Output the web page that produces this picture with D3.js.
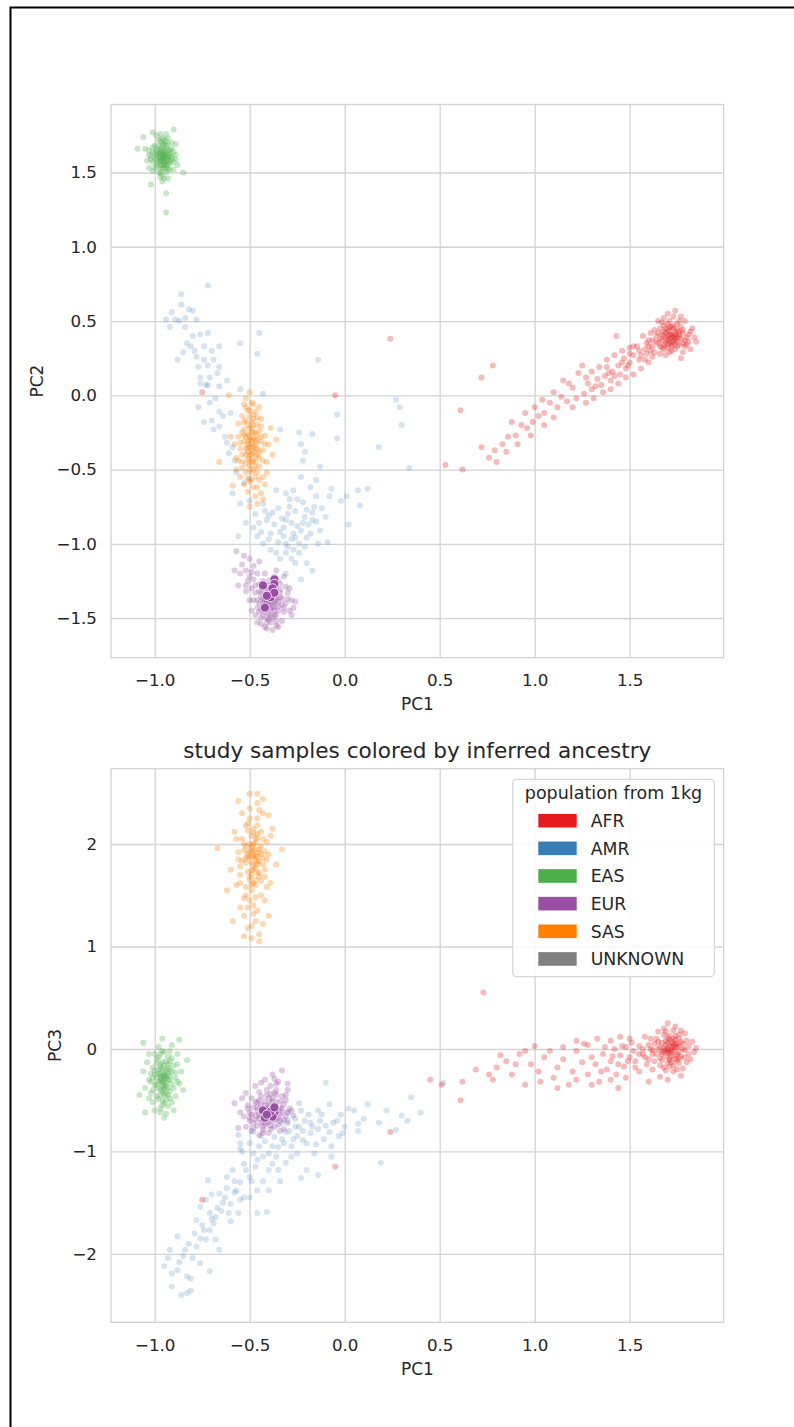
<!DOCTYPE html>
<html>
<head>
<meta charset="utf-8">
<script src="https://cdn.jsdelivr.net/npm/d3@7"></script>
<style>
  html, body { margin: 0; padding: 0; background: #fff; }
  svg { display: block; font-family: "DejaVu Sans", sans-serif; }
</style>
</head>
<body>
<svg id="fig" width="794" height="1427"></svg>
<script>
// ---- populations and legend ----
const populations = ["AFR", "AMR", "EAS", "EUR", "SAS", "UNKNOWN"];
const popColors = ["#e41a1c", "#377eb8", "#4daf4a", "#984ea3", "#ff7f00", "#808080"];

// ---- tick values ----
const pc1Ticks = [-1.0, -0.5, 0.0, 0.5, 1.0, 1.5];
const pc2Ticks = [-1.5, -1.0, -0.5, 0.0, 0.5, 1.0, 1.5];
const pc3Ticks = [-2, -1, 0, 1, 2];

// ---- reference panel, PC1 vs PC2 ----
const afrPC12 = [
[1.72,0.39],[1.70,0.37],[1.74,0.41],[1.68,0.40],[1.75,0.36],[1.71,0.43],[1.73,0.34],[1.69,0.35],[1.76,0.39],[1.66,0.38],
[1.72,0.46],[1.78,0.42],[1.67,0.32],[1.74,0.31],[1.70,0.48],[1.64,0.36],[1.79,0.37],[1.77,0.46],[1.65,0.42],[1.71,0.29],
[1.62,0.33],[1.76,0.50],[1.68,0.47],[1.81,0.41],[1.63,0.29],[1.73,0.53],[1.80,0.34],[1.60,0.37],[1.69,0.27],[1.78,0.29],
[1.66,0.45],[1.75,0.44],[1.71,0.36],[1.73,0.39],[1.69,0.42],[1.70,0.40],[1.74,0.37],[1.72,0.33],[1.67,0.37],[1.76,0.34],
[1.83,0.45],[1.84,0.39],[1.82,0.31],[1.58,0.31],[1.61,0.42],[1.74,0.57],[1.70,0.55],[1.65,0.50],[1.57,0.40],[1.79,0.50],
[1.85,0.36],[1.62,0.26],[1.68,0.52],[1.59,0.28],[1.77,0.25],[1.73,0.45],[1.71,0.41],[1.68,0.34],[1.75,0.40],[1.70,0.32],
[1.73,0.40],[1.71,0.38],[1.74,0.43],[1.69,0.38],[1.76,0.41],[1.72,0.35],[1.70,0.44],[1.67,0.41],[1.77,0.38],[1.73,0.47],
[1.68,0.31],[1.75,0.33],[1.65,0.35],[1.78,0.44],[1.71,0.50],[1.80,0.39],[1.64,0.40],[1.72,0.30],[1.66,0.28],[1.79,0.33],
[1.62,0.37],[1.75,0.48],[1.69,0.45],[1.82,0.43],[1.60,0.33],[1.77,0.53],[1.81,0.36],[1.63,0.44],[1.67,0.49],[1.73,0.36],
[1.70,0.34],[1.74,0.38],[1.71,0.46],[1.76,0.43],[1.68,0.43],[1.72,0.41],[1.66,0.33],[1.78,0.35],[1.59,0.35],[1.61,0.30],
[1.56,0.27],[1.58,0.24],[1.54,0.33],[1.50,0.28],[1.49,0.20],[1.46,0.22],[1.42,0.13],[1.39,0.15],[1.32,0.06],[1.27,0.12],
[1.55,0.30],[1.52,0.27],[1.55,0.24],[1.50,0.22],[1.47,0.25],[1.48,0.18],[1.44,0.20],[1.45,0.14],[1.41,0.16],[1.40,0.10],
[1.37,0.13],[1.35,0.07],[1.33,0.11],[1.30,0.04],[1.28,0.08],[1.26,0.01],[1.23,0.15],[1.22,-0.02],[1.20,0.05],[1.17,-0.04],
[1.14,-0.01],[1.12,-0.08],[1.08,-0.05],[1.05,-0.12],[1.02,-0.14],[0.99,-0.18],[0.96,-0.22],[0.93,-0.20],[0.90,-0.27],[0.86,-0.28],
[0.83,-0.33],[0.79,-0.37],[0.76,-0.42],[0.72,-0.35],[0.62,-0.50],[0.53,-0.47],[0.61,-0.10],[0.78,0.20],[0.72,0.12],[0.24,0.38],
[-0.75,0.02],[-0.05,0.00],[1.43,0.40],[1.52,0.33],[1.38,0.19],
[1.50,0.32],[1.46,0.30],[1.42,0.27],[1.38,0.24],[1.34,0.19],[1.30,0.16],[1.48,0.12],[1.44,0.08],[1.36,0.02],[1.31,-0.02],
[1.25,0.20],[1.18,0.08],[1.15,0.10],[1.10,0.02],[1.04,-0.03],[1.00,-0.08],[0.95,-0.12],[0.88,-0.18],[1.10,-0.15],[1.05,-0.20],
[0.98,-0.27],[0.91,-0.33],[0.85,-0.38],[0.80,-0.45],[1.20,-0.08],[1.27,-0.05],[1.40,0.04],[1.52,0.14],[1.56,0.18],[1.60,0.22]
];
const amrPC12 = [
[-0.72,0.74],[-0.86,0.68],[-0.86,0.61],[-0.82,0.58],[-0.80,0.57],[-0.91,0.56],[-0.94,0.51],[-0.89,0.51],[-0.84,0.52],[-0.92,0.46],
[-0.84,0.46],[-0.78,0.51],[-0.72,0.42],[-0.76,0.41],[-0.45,0.42],[-0.55,0.35],[-0.83,0.35],[-0.81,0.33],[-0.85,0.29],[-0.74,0.33],
[-0.66,0.33],[-0.46,0.28],[-0.88,0.24],[-0.78,0.26],[-0.74,0.24],[-0.69,0.24],[-0.77,0.19],[-0.72,0.20],[-0.66,0.19],[-0.67,0.15],
[-0.76,0.12],[-0.71,0.12],[-0.73,0.07],[-0.66,0.06],[-0.76,0.08],[-0.72,0.07],[-0.55,0.04],[-0.43,0.01],[-0.77,-0.08],[-0.71,-0.05],
[-0.66,-0.11],[-0.60,-0.12],[-0.74,-0.18],[-0.70,-0.17],[-0.66,-0.21],[-0.69,-0.23],[-0.62,-0.32],[-0.59,-0.35],[-0.61,-0.39],[-0.34,-0.23],
[-0.24,-0.25],[-0.17,-0.26],[-0.23,-0.33],[-0.21,-0.38],[-0.22,-0.44],[-0.13,-0.48],[-0.04,-0.13],[-0.04,-0.29],[-0.23,-0.55],[-0.15,-0.57],
[-0.18,-0.62],[-0.27,-0.64],[-0.31,-0.66],[-0.07,-0.63],[0.01,-0.68],[0.07,-0.64],[0.12,-0.63],[0.08,-0.74],[0.02,-0.87],[-0.02,-0.71],
[-0.08,-0.68],[-0.36,-0.64],[-0.15,-0.68],[-0.16,-0.75],[-0.17,-0.79],[-0.17,-0.84],[-0.20,-0.77],[-0.25,-0.70],[-0.29,-0.75],[-0.31,-0.84],
[-0.32,-0.89],[-0.32,-0.95],[-0.31,-1.00],[-0.27,-0.93],[-0.24,-1.00],[-0.22,-0.86],[-0.18,-0.93],[-0.14,-1.00],[-0.09,-0.99],[-0.13,-0.91],
[-0.10,-0.82],[-0.38,-0.79],[-0.41,-0.84],[-0.48,-0.89],[-0.52,-0.86],[-0.56,-0.95],[-0.46,-0.95],[-0.43,-1.00],[-0.39,-1.04],[-0.36,-1.06],
[-0.31,-1.06],[-0.27,-1.04],[-0.24,-1.06],[-0.26,-1.13],[-0.20,-1.13],[-0.17,-1.18],[-0.23,-1.24],[-0.31,-1.20],[-0.39,-0.93],[-0.35,-0.76],
[-0.40,-0.81],[-0.43,-0.73],[-0.50,-0.71],[-0.55,-0.73],[-0.59,-0.66],[-0.53,-0.59],[-0.50,-0.56],[0.18,-0.35],[0.27,-0.03],[-0.14,0.24],
[0.29,-0.08],[0.34,-0.49],[0.30,-0.20],[-0.30,-0.80],[-0.28,-0.86],[-0.34,-0.92],[-0.26,-0.78],[-0.22,-0.72],[-0.29,-0.70],[-0.20,-0.96],
[-0.33,-0.83],[-0.28,-0.97],[-0.25,-0.88],[-0.21,-0.82],[-0.35,-0.99],[-0.30,-1.02],[-0.26,-0.96],[-0.19,-0.87],[-0.23,-0.91],[-0.37,-0.87],
[-0.42,-0.78],[-0.45,-0.86],[-0.47,-0.80],[-0.44,-0.92],[-0.40,-0.97],[-0.34,-1.10],[-0.28,-1.10],[-0.21,-1.02],[-0.15,-0.85],[-0.12,-0.76],
[-0.63,-0.28],[-0.64,-0.14],[-0.68,-0.02],[-0.58,-0.44],[-0.57,-0.52],[-0.80,0.40],[-0.87,0.50],[-0.79,0.30],[-0.70,0.30],[-0.62,0.10]
];
const easPC12 = [
[-0.96,1.60],[-0.95,1.62],[-0.97,1.58],[-0.94,1.59],[-0.96,1.64],[-0.98,1.61],[-0.95,1.56],[-0.93,1.62],[-0.97,1.55],[-0.99,1.59],
[-0.94,1.66],[-0.96,1.68],[-0.92,1.58],[-1.00,1.63],[-0.95,1.53],[-0.98,1.66],[-0.93,1.55],[-0.97,1.71],[-0.91,1.61],[-1.01,1.57],
[-0.95,1.60],[-0.96,1.57],[-0.94,1.63],[-0.97,1.62],[-0.95,1.65],[-0.96,1.52],[-0.99,1.54],[-0.92,1.65],[-0.93,1.69],[-1.02,1.61],
[-0.90,1.57],[-0.98,1.50],[-0.94,1.50],[-0.91,1.66],[-1.00,1.68],[-0.96,1.73],[-0.93,1.73],[-1.03,1.65],[-0.89,1.62],[-0.90,1.52],
[-1.01,1.51],[-0.97,1.47],[-0.93,1.46],[-0.88,1.55],[-1.04,1.58],[-0.99,1.75],[-0.94,1.76],[-0.89,1.69],[-1.05,1.66],[-0.85,1.50],
[-0.96,1.44],[-1.02,1.42],[-0.90,1.79],[-1.01,1.77],[-0.95,1.61],[-0.96,1.59],[-0.94,1.57],[-0.97,1.60],[-0.95,1.58],[-0.93,1.60],
[-0.96,1.62],[-0.98,1.57],[-0.94,1.61],[-0.97,1.65],[-0.92,1.61],[-0.94,1.36],[-0.94,1.23],[-1.06,1.74],[-1.09,1.66],[-1.03,1.53],
[-0.95,1.63],[-0.97,1.59],[-0.96,1.66],[-0.94,1.55],[-0.98,1.63],[-0.93,1.58],[-0.97,1.53],[-0.95,1.69],[-0.99,1.62],[-0.92,1.63],
[-0.96,1.55],[-1.00,1.60],[-0.94,1.68],[-0.98,1.68],[-0.91,1.59],[-0.97,1.50],[-0.93,1.52],[-1.01,1.64],[-0.95,1.72],[-0.99,1.56],
[-0.92,1.56],[-0.96,1.48],[-1.02,1.59],[-0.90,1.64],[-0.94,1.71],[-0.98,1.72],[-1.00,1.53],[-0.91,1.70],[-0.97,1.76],[-1.03,1.62],
[-0.89,1.59],[-0.95,1.46],[-0.93,1.65],[-0.97,1.63],[-0.95,1.55],[-0.99,1.65],[-0.94,1.53],[-0.96,1.70],[-1.01,1.67],[-0.92,1.52]
];
const eurPC12 = [
[-0.40,-1.37],[-0.42,-1.34],[-0.38,-1.40],[-0.41,-1.31],[-0.37,-1.35],[-0.43,-1.40],[-0.39,-1.44],[-0.36,-1.30],[-0.44,-1.36],[-0.40,-1.28],
[-0.35,-1.42],[-0.42,-1.46],[-0.38,-1.33],[-0.45,-1.32],[-0.33,-1.37],[-0.41,-1.50],[-0.37,-1.48],[-0.46,-1.43],[-0.34,-1.27],[-0.43,-1.25],
[-0.39,-1.53],[-0.31,-1.40],[-0.47,-1.28],[-0.36,-1.52],[-0.44,-1.50],[-0.30,-1.33],[-0.48,-1.38],[-0.42,-1.56],[-0.32,-1.46],[-0.50,-1.22],
[-0.52,-1.18],[-0.48,-1.15],[-0.54,-1.14],[-0.51,-1.25],[-0.46,-1.20],[-0.55,-1.20],[-0.50,-1.10],[-0.57,-1.05],[-0.53,-1.08],[-0.58,-1.18],
[-0.45,-1.12],[-0.49,-1.30],[-0.52,-1.32],[-0.28,-1.38],[-0.27,-1.43],[-0.29,-1.30],[-0.26,-1.39],[-0.33,-1.52],[-0.38,-1.58],[-0.41,-1.57],
[-0.35,-1.56],[-0.44,-1.54],[-0.47,-1.48],[-0.40,-1.40],[-0.39,-1.36],[-0.41,-1.38],[-0.38,-1.37],[-0.40,-1.33],[-0.42,-1.38],[-0.37,-1.42],
[-0.43,-1.43],[-0.39,-1.30],[-0.36,-1.38],[-0.41,-1.44],[-0.45,-1.40],[-0.34,-1.33],[-0.40,-1.47],[-0.38,-1.27],[-0.43,-1.30],[-0.35,-1.45],
[-0.49,-1.45],[-0.31,-1.29],[-0.46,-1.53],[-0.32,-1.22],[-0.37,-1.22],[-0.56,-1.28],[-0.50,-1.38],[-0.28,-1.48],[-0.36,-1.18],[-0.42,-1.20],
[-0.39,-1.39],[-0.41,-1.35],[-0.38,-1.43],[-0.42,-1.41],[-0.36,-1.36],[-0.40,-1.31],[-0.43,-1.37],[-0.37,-1.45],[-0.40,-1.42],[-0.35,-1.39],
[-0.44,-1.33],[-0.39,-1.48],[-0.33,-1.41],[-0.42,-1.29],[-0.38,-1.50],[-0.46,-1.38],[-0.34,-1.31],[-0.41,-1.53],[-0.45,-1.46],[-0.32,-1.43],
[-0.47,-1.33],[-0.36,-1.55],[-0.43,-1.48],[-0.30,-1.37],[-0.48,-1.24],[-0.40,-1.25],[-0.52,-1.28],[-0.49,-1.19],[-0.35,-1.25],[-0.29,-1.45],
[-0.38,-1.34],[-0.41,-1.40],[-0.37,-1.39],[-0.39,-1.33],[-0.42,-1.36],[-0.44,-1.44],[-0.36,-1.48],[-0.40,-1.51],[-0.34,-1.36],[-0.45,-1.27]
];
const sasPC12 = [
[-0.49,-0.33],[-0.50,-0.28],[-0.48,-0.38],[-0.51,-0.35],[-0.47,-0.30],[-0.50,-0.22],[-0.48,-0.44],[-0.52,-0.40],[-0.46,-0.36],[-0.49,-0.18],
[-0.51,-0.26],[-0.47,-0.25],[-0.50,-0.47],[-0.53,-0.31],[-0.45,-0.42],[-0.48,-0.13],[-0.52,-0.17],[-0.46,-0.20],[-0.49,-0.52],[-0.54,-0.45],
[-0.44,-0.31],[-0.51,-0.10],[-0.47,-0.55],[-0.53,-0.23],[-0.45,-0.48],[-0.50,-0.58],[-0.55,-0.36],[-0.43,-0.37],[-0.48,-0.06],[-0.52,-0.52],
[-0.46,-0.62],[-0.54,-0.14],[-0.42,-0.27],[-0.49,-0.40],[-0.50,-0.35],[-0.48,-0.29],[-0.51,-0.31],[-0.47,-0.41],[-0.49,-0.25],[-0.50,-0.43],
[-0.56,-0.28],[-0.41,-0.45],[-0.53,-0.06],[-0.44,-0.16],[-0.57,-0.42],[-0.47,-0.68],[-0.51,-0.65],[-0.40,-0.33],[-0.56,-0.19],[-0.43,-0.55],
[-0.55,-0.55],[-0.45,-0.08],[-0.50,0.02],[-0.52,-0.02],[-0.39,-0.22],[-0.58,-0.33],[-0.42,-0.60],[-0.46,-0.73],[-0.50,-0.75],[-0.60,-0.28],
[-0.38,-0.40],[-0.66,-0.45],[-0.57,-0.50],[-0.44,-0.66],[-0.41,-0.52],[-0.53,-0.60],[-0.48,-0.20],[-0.49,-0.45],[-0.47,-0.33],[-0.52,-0.28],
[-0.46,-0.27],[-0.51,-0.38],[-0.48,-0.50],[-0.50,-0.14],[-0.45,-0.24],[-0.54,-0.49],[-0.61,0.00],[-0.36,-0.30],[-0.43,-0.70],[-0.59,-0.61],
[-0.49,-0.30],[-0.51,-0.33],[-0.47,-0.36],[-0.50,-0.40],[-0.48,-0.25],[-0.52,-0.36],[-0.46,-0.31],[-0.49,-0.22],[-0.53,-0.27],[-0.47,-0.45],
[-0.50,-0.50],[-0.45,-0.38],[-0.51,-0.20],[-0.48,-0.16],[-0.54,-0.40],[-0.46,-0.52],[-0.52,-0.46],[-0.44,-0.28],[-0.49,-0.57],[-0.50,-0.10],
[-0.53,-0.18],[-0.47,-0.11],[-0.55,-0.32],[-0.43,-0.44],[-0.48,-0.62],[-0.51,-0.56],[-0.45,-0.57],[-0.52,-0.08],[-0.46,-0.15],[-0.56,-0.44],
[-0.42,-0.33],[-0.49,-0.05],[-0.54,-0.25],[-0.44,-0.21],[-0.47,-0.48],[-0.50,-0.30],[-0.48,-0.34],[-0.51,-0.43],[-0.46,-0.40],[-0.49,-0.37]
];

// ---- reference panel, PC1 vs PC3 ----
const afrPC13 = [
[1.72,-0.03],[1.70,0.00],[1.74,-0.06],[1.68,-0.02],[1.75,0.02],[1.71,-0.09],[1.73,0.05],[1.69,-0.07],[1.76,-0.03],[1.66,0.02],
[1.72,-0.13],[1.78,0.00],[1.67,-0.11],[1.74,0.09],[1.70,0.11],[1.64,-0.05],[1.79,-0.08],[1.77,0.07],[1.65,0.07],[1.71,-0.17],
[1.62,-0.01],[1.76,0.14],[1.68,0.14],[1.81,0.03],[1.63,-0.12],[1.73,0.18],[1.80,-0.13],[1.60,0.04],[1.69,-0.21],[1.78,-0.19],
[1.66,-0.16],[1.75,-0.11],[1.71,0.03],[1.73,-0.01],[1.69,0.04],[1.70,-0.04],[1.74,0.01],[1.72,0.07],[1.67,-0.05],[1.76,-0.14],
[1.83,0.07],[1.84,-0.03],[1.82,-0.10],[1.58,-0.08],[1.61,0.10],[1.74,0.22],[1.70,0.25],[1.65,0.17],[1.57,0.00],[1.79,0.15],
[1.85,0.01],[1.62,-0.20],[1.68,0.20],[1.59,-0.15],[1.77,-0.26],[1.73,-0.22],[1.71,0.13],[1.66,-0.27],[1.75,0.05],[1.70,-0.30],
[1.72,-0.01],[1.71,-0.04],[1.73,0.03],[1.69,-0.01],[1.75,-0.05],[1.70,0.06],[1.74,-0.10],[1.68,0.01],[1.76,0.03],[1.72,-0.07],
[1.67,0.06],[1.77,-0.07],[1.66,-0.09],[1.78,0.05],[1.71,0.09],[1.65,0.00],[1.79,-0.01],[1.73,-0.16],[1.64,0.10],[1.74,0.13],
[1.70,-0.14],[1.62,-0.05],[1.80,0.08],[1.68,-0.18],[1.76,0.10],[1.81,-0.05],[1.63,0.05],[1.69,0.17],[1.75,-0.20],[1.77,0.18],
[1.72,0.02],[1.70,-0.02],[1.74,0.05],[1.71,-0.11],[1.73,0.10],[1.67,-0.03],[1.76,-0.09],[1.69,0.08],[1.60,-0.10],[1.61,0.00],
[1.57,-0.05],[1.55,0.03],[1.53,-0.18],[1.51,0.06],[1.49,-0.12],[1.46,0.03],[1.44,-0.15],[1.41,-0.07],[1.37,0.02],[1.35,-0.22],
[1.55,-0.05],[1.52,-0.02],[1.53,-0.12],[1.50,-0.08],[1.48,0.02],[1.47,-0.17],[1.45,-0.06],[1.43,-0.25],[1.42,0.00],[1.40,-0.12],
[1.38,-0.20],[1.36,-0.05],[1.34,-0.32],[1.32,-0.15],[1.30,-0.08],[1.28,-0.25],[1.25,-0.13],[1.22,-0.02],[1.20,-0.22],[1.18,-0.35],
[1.15,-0.10],[1.12,-0.18],[1.10,-0.28],[1.05,-0.08],[1.02,-0.22],[0.98,-0.15],[0.95,-0.35],[0.92,-0.05],[0.88,-0.25],[0.85,-0.12],
[0.82,-0.06],[0.78,-0.30],[0.76,-0.25],[0.69,-0.20],[0.61,-0.50],[0.51,-0.35],[0.62,-0.32],[0.73,0.55],[0.24,-0.81],[-0.05,-1.15],
[-0.75,-1.47],[0.45,-0.30],[1.26,0.05],[1.44,-0.38],[1.60,-0.32],
[1.50,0.10],[1.45,0.12],[1.40,0.08],[1.33,0.10],[1.28,0.04],[1.22,0.08],[1.15,0.02],[1.08,-0.02],[1.00,0.03],[0.95,-0.02],
[1.48,-0.28],[1.40,-0.30],[1.30,-0.35],[1.22,-0.30],[1.12,-0.38],[1.03,-0.32],[0.90,-0.15],[0.80,-0.18],[1.55,-0.22],[1.58,0.12]
];
const amrPC13 = [
[-0.10,-0.33],[0.52,-0.33],[0.35,-0.47],[0.30,-0.65],[0.27,-0.79],[0.18,-0.72],[0.12,-0.54],[0.19,-1.11],[0.07,-0.73],[0.07,-0.80],
[0.02,-0.58],[-0.08,-0.54],[-0.01,-0.82],[-0.03,-0.85],[-0.07,-0.95],[-0.07,-1.05],[-0.14,-0.60],[-0.17,-0.76],[-0.15,-0.93],[-0.14,-1.23],
[-0.20,-1.18],[-0.23,-1.26],[-0.24,-0.76],[-0.22,-0.89],[-0.23,-0.60],[-0.26,-0.68],[-0.25,-1.02],[-0.31,-1.11],[-0.34,-1.29],[-0.28,-0.95],
[-0.32,-0.92],[-0.36,-1.05],[-0.40,-1.02],[-0.40,-1.18],[-0.43,-1.29],[-0.45,-0.95],[-0.46,-1.08],[-0.46,-1.38],[-0.40,-1.38],[-0.41,-1.59],
[-0.46,-1.60],[-0.49,-1.29],[-0.52,-1.18],[-0.53,-1.12],[-0.55,-0.92],[-0.54,-1.00],[-0.59,-1.18],[-0.58,-1.29],[-0.62,-1.36],[-0.57,-1.38],
[-0.55,-1.47],[-0.53,-1.45],[-0.60,-1.51],[-0.61,-1.60],[-0.56,-1.60],[-0.66,-1.41],[-0.70,-1.42],[-0.67,-1.55],[-0.71,-1.60],[-0.68,-1.64],
[-0.72,-1.28],[-0.73,-1.47],[-0.76,-1.54],[-0.78,-1.67],[-0.74,-1.77],[-0.71,-1.77],[-0.76,-1.85],[-0.73,-1.86],[-0.68,-1.86],[-0.66,-1.96],
[-0.78,-1.93],[-0.82,-1.90],[-0.84,-1.96],[-0.88,-1.83],[-0.92,-1.96],[-0.93,-2.04],[-0.85,-2.02],[-0.80,-2.04],[-0.76,-2.09],[-0.95,-2.12],
[-0.91,-2.19],[-0.88,-2.16],[-0.83,-2.22],[-0.81,-2.24],[-0.91,-2.32],[-0.86,-2.40],[-0.83,-2.38],[-0.81,-2.36],[-0.71,-2.17],[-0.56,-0.84],
[-0.55,-0.97],[-0.48,-0.81],[-0.24,-0.53],[-0.19,-0.64],[-0.31,-0.81],[-0.37,-0.86],[-0.18,-0.82],[-0.13,-0.70],[-0.08,-0.81],[-0.04,-0.70],
[-0.33,-0.72],[-0.29,-0.80],[-0.21,-0.70],[-0.27,-0.88],[-0.35,-0.96],[-0.42,-0.90],[-0.38,-1.12],[-0.48,-1.02],[-0.50,-1.45],[-0.64,-1.50],
[-0.62,-1.25],[-0.69,-1.70],[-0.60,-1.68],[-0.11,-0.88],[-0.16,-1.02],[0.40,-0.62],[0.33,-0.70],[0.05,-0.60],[-0.02,-0.64],[-0.30,-0.62],
[-0.30,-0.70],[-0.26,-0.76],[-0.22,-0.80],[-0.18,-0.72],[-0.14,-0.78],[-0.10,-0.75],[-0.06,-0.72],[-0.25,-0.85],[-0.33,-0.88],[-0.38,-0.95],
[-0.43,-1.05],[-0.47,-1.15],[-0.50,-1.25],[-0.55,-1.30],[-0.58,-1.40],[-0.63,-1.45],[-0.65,-1.58],[-0.70,-1.66],[-0.75,-1.72],[-0.79,-1.80],
[-0.50,-0.92],[-0.44,-0.85],[-0.20,-0.92],[-0.12,-0.64],[0.00,-0.76],[0.10,-0.68],[0.22,-0.60],[-0.35,-1.18],[-0.28,-1.05],[-0.87,-2.08]
];
const easPC13 = [
[-0.96,-0.27],[-0.95,-0.22],[-0.97,-0.31],[-0.94,-0.26],[-0.98,-0.20],[-0.95,-0.35],[-0.93,-0.18],[-0.97,-0.40],[-0.99,-0.28],[-0.92,-0.30],
[-0.96,-0.13],[-1.00,-0.35],[-0.94,-0.44],[-0.91,-0.22],[-0.98,-0.08],[-1.01,-0.18],[-0.93,-0.07],[-0.96,-0.50],[-0.90,-0.38],[-1.02,-0.43],
[-0.95,-0.30],[-0.97,-0.24],[-0.94,-0.33],[-0.96,-0.19],[-0.95,-0.40],[-0.98,-0.32],[-0.93,-0.24],[-0.97,-0.15],[-0.92,-0.12],[-1.00,-0.25],
[-0.89,-0.28],[-0.99,-0.46],[-0.92,-0.48],[-1.03,-0.30],[-0.95,-0.03],[-0.98,0.02],[-0.91,0.04],[-0.88,-0.15],[-1.04,-0.13],[-0.93,-0.56],
[-0.97,-0.58],[-1.01,-0.52],[-0.89,-0.46],[-0.87,-0.34],[-1.05,-0.38],[-0.96,0.10],[-0.87,0.09],[-1.06,0.06],[-1.08,-0.45],[-0.95,-0.67],
[-1.05,-0.62],[-0.83,-0.11],[-0.90,-0.60],[-1.03,-0.05],[-0.86,-0.22],[-0.94,-0.28],[-0.96,-0.36],[-0.95,-0.16],[-0.97,-0.45],[-0.93,-0.38],
[-0.99,-0.10],[-0.92,-0.02],[-1.02,-0.24],[-0.88,-0.05],[-0.94,-0.63],[-1.00,-0.60],[-0.91,-0.52],[-1.06,-0.22],[-0.85,-0.40],[-0.96,-0.55],
[-0.95,-0.25],[-0.97,-0.29],[-0.94,-0.21],[-0.96,-0.33],[-0.98,-0.24],[-0.93,-0.30],[-0.95,-0.38],[-0.97,-0.18],[-0.92,-0.26],[-0.99,-0.35],
[-0.94,-0.12],[-0.96,-0.42],[-1.00,-0.21],[-0.91,-0.34],[-0.98,-0.49],[-0.93,-0.45],[-0.97,-0.05],[-1.01,-0.40],[-0.90,-0.16],[-0.95,-0.53],
[-0.99,-0.14],[-0.92,-0.41],[-1.02,-0.32],[-0.89,-0.23],[-0.96,-0.02],[-0.94,-0.50],[-1.00,-0.05],[-0.91,-0.09],[-0.97,-0.62],[-1.03,-0.48],
[-0.95,-0.27],[-0.96,-0.31],[-0.94,-0.36],[-0.97,-0.26],[-0.93,-0.15],[-0.98,-0.38],[-0.95,-0.45],[-0.92,-0.20],[-1.01,-0.28],[-0.88,-0.32]
];
const eurPC13 = [
[-0.40,-0.61],[-0.42,-0.58],[-0.38,-0.64],[-0.41,-0.66],[-0.37,-0.56],[-0.43,-0.63],[-0.39,-0.53],[-0.36,-0.68],[-0.44,-0.55],[-0.40,-0.71],
[-0.35,-0.60],[-0.45,-0.68],[-0.38,-0.48],[-0.42,-0.74],[-0.33,-0.62],[-0.46,-0.60],[-0.41,-0.45],[-0.34,-0.70],[-0.47,-0.52],[-0.37,-0.76],
[-0.32,-0.54],[-0.48,-0.72],[-0.36,-0.40],[-0.43,-0.79],[-0.31,-0.66],[-0.50,-0.62],[-0.39,-0.36],[-0.45,-0.42],[-0.33,-0.46],[-0.51,-0.55],
[-0.40,-0.82],[-0.35,-0.32],[-0.38,-0.25],[-0.33,-0.21],[-0.42,-0.30],[-0.30,-0.40],[-0.29,-0.58],[-0.28,-0.60],[-0.30,-0.72],[-0.53,-0.66],
[-0.54,-0.48],[-0.56,-0.77],[-0.58,-0.53],[-0.45,-0.84],[-0.49,-0.80],[-0.52,-0.43],[-0.47,-0.36],[-0.34,-0.80],[-0.40,-0.60],[-0.41,-0.62],
[-0.39,-0.59],[-0.42,-0.64],[-0.38,-0.61],[-0.40,-0.57],[-0.43,-0.60],[-0.37,-0.65],[-0.41,-0.68],[-0.39,-0.67],[-0.44,-0.66],[-0.36,-0.52],
[-0.45,-0.50],[-0.35,-0.74],[-0.46,-0.75],[-0.31,-0.50],[-0.49,-0.48],[-0.44,-0.33],[-0.37,-0.29],[-0.55,-0.62],[-0.27,-0.65],[-0.50,-0.70],
[-0.32,-0.78],[-0.42,-0.51],[-0.36,-0.45],[-0.48,-0.57],[-0.34,-0.57],[-0.43,-0.70],[-0.39,-0.75],[-0.47,-0.65],[-0.30,-0.34],[-0.52,-0.76],
[-0.40,-0.63],[-0.41,-0.59],[-0.39,-0.65],[-0.42,-0.67],[-0.38,-0.57],[-0.43,-0.61],[-0.40,-0.55],[-0.37,-0.69],[-0.44,-0.58],[-0.41,-0.72],
[-0.36,-0.62],[-0.45,-0.64],[-0.38,-0.51],[-0.43,-0.76],[-0.34,-0.64],[-0.46,-0.57],[-0.40,-0.48],[-0.35,-0.67],[-0.47,-0.69],[-0.39,-0.78],
[-0.33,-0.58],[-0.49,-0.64],[-0.37,-0.43],[-0.44,-0.46],[-0.32,-0.69],[-0.51,-0.58],[-0.41,-0.40],[-0.36,-0.34],[-0.48,-0.77],[-0.30,-0.62],
[-0.42,-0.55],[-0.38,-0.70],[-0.44,-0.72],[-0.36,-0.57],[-0.46,-0.52],[-0.34,-0.51],[-0.50,-0.67],[-0.39,-0.44],[-0.43,-0.82],[-0.31,-0.45]
];
const sasPC13 = [
[-0.48,1.90],[-0.47,1.85],[-0.49,1.95],[-0.46,1.80],[-0.50,2.00],[-0.48,1.75],[-0.45,1.92],[-0.51,1.88],[-0.47,2.05],[-0.49,1.70],
[-0.44,1.98],[-0.52,1.82],[-0.46,2.10],[-0.50,1.65],[-0.43,1.86],[-0.53,1.94],[-0.47,1.60],[-0.48,2.15],[-0.42,1.75],[-0.54,2.05],
[-0.45,1.68],[-0.51,2.20],[-0.49,1.55],[-0.41,2.02],[-0.55,1.78],[-0.46,2.25],[-0.52,1.50],[-0.44,1.50],[-0.40,1.90],[-0.56,1.92],
[-0.48,1.40],[-0.50,1.45],[-0.46,1.35],[-0.53,1.30],[-0.47,1.25],[-0.51,1.18],[-0.45,1.12],[-0.53,1.10],[-0.45,1.05],[-0.49,1.08],
[-0.43,1.22],[-0.55,1.38],[-0.42,1.45],[-0.57,1.60],[-0.39,1.62],[-0.58,2.12],[-0.38,2.15],[-0.50,2.35],[-0.46,2.40],[-0.50,2.49],
[-0.46,2.49],[-0.43,2.30],[-0.54,2.30],[-0.33,1.95],[-0.67,1.96],[-0.60,1.75],[-0.36,1.80],[-0.62,1.55],[-0.40,2.28],[-0.56,2.42],
[-0.48,1.88],[-0.47,1.95],[-0.49,1.82],[-0.48,2.00],[-0.46,1.88],[-0.50,1.93],[-0.47,1.77],[-0.49,2.08],[-0.45,1.83],[-0.51,1.73],
[-0.44,2.12],[-0.52,1.98],[-0.48,1.62],[-0.46,1.72],[-0.41,1.58],[-0.59,1.25],[-0.40,1.30],[-0.55,1.62],[-0.43,2.44],[-0.52,2.18],
[-0.48,1.93],[-0.47,1.88],[-0.49,1.98],[-0.46,1.83],[-0.50,1.87],[-0.48,1.79],[-0.45,1.95],[-0.51,1.91],[-0.47,2.01],[-0.49,1.74],
[-0.44,1.90],[-0.52,1.86],[-0.46,2.06],[-0.50,1.68],[-0.43,1.80],[-0.53,2.00],[-0.47,1.65],[-0.48,2.11],[-0.42,1.93],[-0.54,1.84],
[-0.45,1.72],[-0.51,2.13],[-0.49,1.60],[-0.41,1.85],[-0.55,1.70],[-0.46,2.18],[-0.52,1.58],[-0.44,1.64],[-0.50,2.25],[-0.47,1.48],
[-0.43,2.05],[-0.53,1.47],[-0.56,1.85],[-0.39,2.08],[-0.48,1.32],[-0.51,1.38],[-0.45,2.33],[-0.49,1.20],[-0.57,2.05],[-0.42,1.68]
];

// ---- study samples: [PC1, PC2, PC3], inferred EUR ----
const studySamples = [
[-0.43,-1.28,-0.60],[-0.37,-1.24,-0.56],[-0.37,-1.27,-0.62],[-0.38,-1.30,-0.66],
[-0.39,-1.36,-0.61],[-0.42,-1.43,-0.67],[-0.37,-1.33,-0.57],[-0.41,-1.35,-0.64]
];

// ---- drawing ----
const svg = d3.select("#fig");
const FONT = "DejaVu Sans";
const TEXT = "#262626";
const GRID = "#d3d3d3";
const colorOf = d3.scaleOrdinal().domain(populations).range(popColors);

// outer frame
svg.append("rect")
  .attr("x", 10.5).attr("y", 7.5).attr("width", 800).attr("height", 1440)
  .attr("fill", "none").attr("stroke", "#000").attr("stroke-width", 2);

const fmt1 = d3.format(".1f");
const fmt0 = d3.format("d");

function panel(opts) {
  const { top, bottom, yDomain, yTicks, yFmt, yLabel, yLabelX, sets, study, studyIdx } = opts;
  const left = 111, right = 723.7;
  const x = d3.scaleLinear().domain([-1.23, 1.995]).range([left, right]);
  const y = d3.scaleLinear().domain(yDomain).range([bottom, top]);
  const g = svg.append("g");

  // grid + tick labels through d3 axes
  const xAxis = g.append("g").attr("transform", `translate(0,${bottom})`)
    .call(d3.axisBottom(x).tickValues(pc1Ticks).tickFormat(fmt1)
      .tickSizeInner(-(bottom - top)).tickSizeOuter(0).tickPadding(16.6));
  const yAxis = g.append("g").attr("transform", `translate(${left},0)`)
    .call(d3.axisLeft(y).tickValues(yTicks).tickFormat(yFmt)
      .tickSizeInner(-(right - left)).tickSizeOuter(0).tickPadding(14));
  [xAxis, yAxis].forEach(a => {
    a.select(".domain").remove();
    a.selectAll(".tick line").attr("stroke", GRID).attr("stroke-width", 1.3);
    a.selectAll(".tick text").attr("fill", TEXT)
      .attr("font-family", FONT).attr("font-size", 16.7);
  });

  // spines
  g.append("rect").attr("x", left).attr("y", top)
    .attr("width", right - left).attr("height", bottom - top)
    .attr("fill", "none").attr("stroke", GRID).attr("stroke-width", 1.3);

  // reference samples
  const clip = "clip" + Math.round(top);
  svg.append("clipPath").attr("id", clip).append("rect")
    .attr("x", left).attr("y", top).attr("width", right - left).attr("height", bottom - top);
  const pts = g.append("g").attr("clip-path", `url(#${clip})`);
  sets.forEach(([pop, data, alpha]) => {
    pts.append("g").selectAll("circle").data(data).join("circle")
      .attr("cx", d => x(d[0])).attr("cy", d => y(d[1])).attr("r", 3.0)
      .attr("fill", colorOf(pop)).attr("fill-opacity", alpha);
  });
  // study samples
  pts.append("g").selectAll("circle").data(study).join("circle")
    .attr("cx", d => x(d[0])).attr("cy", d => y(d[studyIdx])).attr("r", 4.6)
    .attr("fill", colorOf("EUR")).attr("stroke", "#fff").attr("stroke-width", 0.8);

  // axis titles
  g.append("text").attr("x", (left + right) / 2).attr("y", bottom + 52.7)
    .attr("text-anchor", "middle").attr("font-family", FONT).attr("font-size", 17)
    .attr("fill", TEXT).text("PC1");
  g.append("text")
    .attr("transform", `translate(${yLabelX},${(top + bottom) / 2}) rotate(-90)`)
    .attr("text-anchor", "middle").attr("font-family", FONT).attr("font-size", 17)
    .attr("fill", TEXT).text(yLabel);
  return { x, y, g, left, right, top, bottom };
}

panel({
  top: 104.5, bottom: 657.7, yDomain: [-1.767, 1.958], yTicks: pc2Ticks, yFmt: fmt1,
  yLabel: "PC2", yLabelX: 43,
  sets: [["AFR", afrPC12, 0.3], ["AMR", amrPC12, 0.21], ["EAS", easPC12, 0.3],
         ["EUR", eurPC12, 0.3], ["SAS", sasPC12, 0.3]],
  study: studySamples, studyIdx: 1
});

const p2 = panel({
  top: 768.7, bottom: 1322.3, yDomain: [-2.667, 2.735], yTicks: pc3Ticks, yFmt: fmt0,
  yLabel: "PC3", yLabelX: 61,
  sets: [["AFR", afrPC13, 0.3], ["AMR", amrPC13, 0.21], ["EAS", easPC13, 0.3],
         ["EUR", eurPC13, 0.3], ["SAS", sasPC13, 0.3]],
  study: studySamples, studyIdx: 2
});

// title
svg.append("text").attr("x", (p2.left + p2.right) / 2).attr("y", 758)
  .attr("text-anchor", "middle").attr("font-family", FONT).attr("font-size", 21.6)
  .attr("fill", TEXT).text("study samples colored by inferred ancestry");

// legend
const lg = svg.append("g").attr("transform", "translate(512.7,779.3)");
lg.append("rect").attr("width", 201.6).attr("height", 197.4).attr("rx", 4)
  .attr("fill", "#fff").attr("fill-opacity", 0.85)
  .attr("stroke", "#d6d6d6").attr("stroke-width", 1.2);
lg.append("text").attr("x", 100.8).attr("y", 19.5).attr("text-anchor", "middle")
  .attr("font-family", FONT).attr("font-size", 17.5).attr("fill", TEXT)
  .text("population from 1kg");
const rows = lg.selectAll("g.row").data(populations).join("g").attr("class", "row")
  .attr("transform", (d, i) => `translate(0,${41.4 + i * 27.65})`);
rows.append("rect").attr("x", 25.6).attr("y", -6.8).attr("width", 38.4).attr("height", 13.6)
  .attr("fill", d => colorOf(d));
rows.append("text").attr("x", 78).attr("y", 6.2)
  .attr("font-family", FONT).attr("font-size", 17.3).attr("fill", TEXT).text(d => d);
</script>
</body>
</html>
